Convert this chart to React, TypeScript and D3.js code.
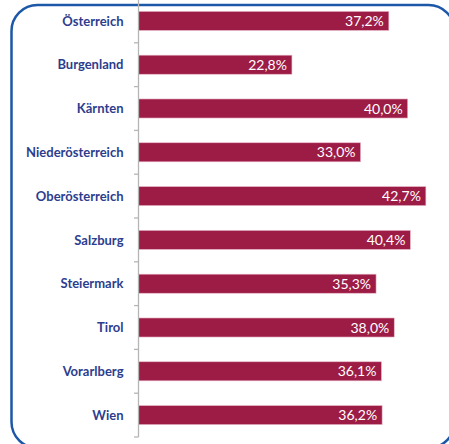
import React from "react";
import * as d3 from "d3";

const categories = [
  "Österreich",
  "Burgenland",
  "Kärnten",
  "Niederösterreich",
  "Oberösterreich",
  "Salzburg",
  "Steiermark",
  "Tirol",
  "Vorarlberg",
  "Wien",
];
const values = [37.2, 22.8, 40.0, 33.0, 42.7, 40.4, 35.3, 38.0, 36.1, 36.2];

const W = 449;
const H = 444;

export default function App() {
  const x0 = 138.5;
  const x = d3.scaleLinear().domain([0, 100]).range([x0, x0 + 673]);
  const y = d3.scaleBand().domain(categories).range([-1, 437]).paddingInner(0.565).paddingOuter(0.2825);
  const boundaries = d3.range(categories.length + 1).map((i) => -1 + i * (437 + 1) / categories.length);
  const fmt = (v: number) => v.toFixed(1).replace(".", ",") + "%";

  return (
    <svg width={W} height={H} style={{ position: "absolute", left: 0, top: 0, background: "#fff" }}>
      <rect x={11.5} y={5} width={443} height={443} rx={26} ry={26} fill="none" stroke="#1d57a7" strokeWidth={2.5} />
      {categories.map((c, i) => (
        <g key={c}>
          <rect
            x={x(0)}
            y={y(c)!}
            width={x(values[i]) - x(0)}
            height={y.bandwidth()}
            fill="#9d1c46"
            stroke="#e8b9c8"
            strokeWidth={0.6}
          />
          <text
            x={x(values[i]) - 5}
            y={y(c)! + y.bandwidth() / 2}
            dy="0.36em"
            textAnchor="end"
            fill="#ffffff"
            fontFamily="Lato, 'Open Sans', sans-serif"
            fontSize={14}
          >
            {fmt(values[i])}
          </text>
          <text
            x={123.5}
            y={y(c)! + y.bandwidth() / 2}
            dy="0.36em"
            textAnchor="end"
            fill="#2d3d8e"
            fontFamily="Lato, 'Open Sans', sans-serif"
            fontWeight="bold"
            fontSize={13}
          >
            {c}
          </text>
        </g>
      ))}
      <line x1={x0} x2={x0} y1={-1} y2={437} stroke="#b5b5b5" strokeWidth={1.3} />
      {boundaries.map((b, i) => (
        <line key={i} x1={x0 - 4.5} x2={x0} y1={b} y2={b} stroke="#b5b5b5" strokeWidth={1.3} />
      ))}
    </svg>
  );
}
